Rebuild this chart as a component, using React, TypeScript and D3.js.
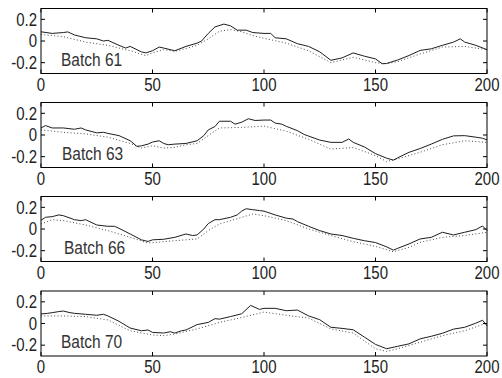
import React from 'react';
import * as d3 from 'd3';

// ==================== DATA ====================
const xTicks = [0, 50, 100, 150, 200];
const yTicks = [-0.2, 0, 0.2];
const batchNames = ['Batch 61', 'Batch 63', 'Batch 66', 'Batch 70'];

type Pt = [number, number];

const batch61Solid: Pt[] = [[0,0.085],[5,0.07],[10,0.078],[12,0.084],[15,0.056],[20,0.03],[25,0.02],[28,0],[30,0.006],[35,-0.04],[38,-0.065],[40,-0.05],[45,-0.1],[47,-0.11],[50,-0.09],[53,-0.056],[55,-0.065],[60,-0.09],[65,-0.05],[70,-0.02],[72,0],[75,0.07],[78,0.13],[82,0.156],[85,0.14],[88,0.1],[92,0.1],[95,0.078],[100,0.07],[103,0.07],[105,0.03],[110,0.02],[115,-0.025],[120,-0.05],[125,-0.1],[130,-0.178],[135,-0.156],[140,-0.11],[145,-0.14],[150,-0.165],[153,-0.21],[155,-0.207],[160,-0.175],[165,-0.134],[170,-0.087],[175,-0.072],[180,-0.04],[185,-0.01],[188,0.02],[190,-0.01],[195,-0.04],[200,-0.08]];
const batch61Dotted: Pt[] = [[0,0.06],[10,0.04],[20,-0.01],[30,-0.04],[40,-0.09],[47,-0.135],[50,-0.11],[55,-0.08],[60,-0.095],[65,-0.07],[70,-0.04],[75,0.02],[80,0.09],[85,0.105],[90,0.085],[95,0.05],[100,0.025],[110,-0.02],[120,-0.09],[130,-0.2],[140,-0.15],[150,-0.2],[155,-0.21],[160,-0.19],[170,-0.12],[180,-0.056],[190,-0.05],[200,-0.08]];

const batch63Solid: Pt[] = [[0,0.065],[2,0.087],[5,0.065],[10,0.065],[15,0.053],[18,0.065],[20,0.047],[25,0.02],[28,0.025],[30,0.015],[35,-0.006],[40,-0.053],[43,-0.105],[45,-0.1],[48,-0.084],[50,-0.065],[53,-0.053],[55,-0.078],[57,-0.09],[60,-0.084],[65,-0.078],[70,-0.053],[73,-0.006],[75,0.047],[78,0.078],[80,0.127],[85,0.127],[87,0.1],[90,0.118],[93,0.15],[96,0.134],[100,0.138],[103,0.138],[105,0.11],[108,0.1],[110,0.08],[115,0.04],[118,0.005],[120,-0.01],[125,-0.047],[130,-0.068],[135,-0.068],[138,-0.037],[140,-0.068],[145,-0.11],[150,-0.172],[155,-0.214],[158,-0.232],[160,-0.21],[165,-0.16],[170,-0.125],[175,-0.084],[180,-0.04],[185,-0.008],[190,-0.006],[195,-0.02],[198,-0.03],[200,-0.045]];
const batch63Dotted: Pt[] = [[0,0.047],[10,0.025],[20,0.01],[30,-0.02],[40,-0.078],[45,-0.12],[50,-0.1],[55,-0.12],[60,-0.115],[65,-0.09],[70,-0.078],[75,-0.006],[80,0.065],[90,0.07],[100,0.082],[110,0.035],[120,-0.04],[130,-0.13],[140,-0.115],[150,-0.19],[155,-0.245],[160,-0.22],[170,-0.16],[180,-0.09],[190,-0.053],[200,-0.068]];

const batch66Solid: Pt[] = [[0,0.08],[2,0.108],[5,0.114],[8,0.13],[10,0.123],[15,0.086],[18,0.077],[20,0.086],[25,0.037],[30,0.025],[33,0.025],[35,0.006],[40,-0.046],[45,-0.1],[48,-0.115],[50,-0.1],[55,-0.095],[60,-0.077],[65,-0.046],[68,-0.06],[70,-0.055],[73,0],[75,0.05],[78,0.086],[80,0.086],[85,0.108],[88,0.13],[90,0.165],[92,0.187],[95,0.178],[98,0.17],[100,0.165],[105,0.13],[110,0.1],[113,0.092],[115,0.068],[120,0.025],[125,-0.015],[130,-0.046],[135,-0.06],[140,-0.086],[145,-0.108],[150,-0.125],[155,-0.165],[158,-0.195],[160,-0.178],[165,-0.138],[170,-0.092],[175,-0.077],[180,-0.03],[185,-0.055],[190,-0.03],[195,-0.006],[198,0.028],[200,-0.015]];
const batch66Dotted: Pt[] = [[0,0.046],[5,0.086],[10,0.077],[20,0.037],[30,-0.015],[40,-0.077],[48,-0.13],[55,-0.117],[60,-0.108],[70,-0.092],[75,-0.015],[80,0.046],[90,0.108],[95,0.138],[100,0.123],[110,0.077],[120,0],[130,-0.06],[140,-0.117],[150,-0.16],[158,-0.21],[165,-0.17],[170,-0.123],[180,-0.077],[190,-0.06],[200,-0.03]];

const batch70Solid: Pt[] = [[0,0.088],[3,0.094],[5,0.1],[8,0.11],[10,0.115],[13,0.1],[15,0.094],[20,0.085],[25,0.076],[28,0.085],[30,0.07],[35,0.02],[40,-0.042],[45,-0.067],[48,-0.06],[50,-0.082],[55,-0.088],[58,-0.076],[60,-0.088],[63,-0.067],[65,-0.06],[70,-0.01],[75,0.01],[78,0.045],[80,0.04],[85,0.064],[90,0.09],[94,0.167],[98,0.13],[100,0.14],[105,0.14],[110,0.118],[115,0.124],[120,0.07],[125,0.035],[130,-0.035],[135,-0.045],[140,-0.058],[145,-0.125],[150,-0.193],[155,-0.233],[160,-0.21],[165,-0.188],[170,-0.142],[175,-0.118],[180,-0.09],[185,-0.052],[190,-0.035],[195,0.003],[198,0.03],[200,-0.02]];
const batch70Dotted: Pt[] = [[0,0.07],[10,0.07],[20,0.064],[30,0.033],[40,-0.067],[50,-0.106],[55,-0.112],[60,-0.097],[70,-0.05],[80,0.01],[90,0.055],[100,0.106],[110,0.076],[120,0.05],[130,-0.05],[140,-0.088],[150,-0.233],[155,-0.258],[160,-0.233],[170,-0.173],[180,-0.112],[190,-0.067],[200,0.005]];

const solidSeries = [batch61Solid, batch63Solid, batch66Solid, batch70Solid];
const dottedSeries = [batch61Dotted, batch63Dotted, batch66Dotted, batch70Dotted];

// ==================== LAYOUT ====================
const W = 502;
const H = 378;
const LEFT = 41;
const RIGHT = 487;
const PANEL_H = 65;
const PANEL_TOPS = [8.5, 102.5, 196.5, 291];
const LABEL_X = [61, 62, 64, 61];
const FONT = "'Liberation Sans', Arial, sans-serif";
const TEXT_SY = 1.18; // picture is stretched vertically
const TICK = 4;

const x = d3.scaleLinear().domain([0, 200]).range([LEFT, RIGHT]);

const Panel = ({ i }: { i: number }) => {
  const top = PANEL_TOPS[i];
  const y = d3.scaleLinear().domain([-0.3, 0.3]).range([top + PANEL_H, top]);
  const line = d3.line<Pt>().x(d => x(d[0])).y(d => y(d[1]));
  const bottom = top + PANEL_H;
  return (
    <g>
      <path d={line(dottedSeries[i]) || ''} fill="none" stroke="#4a4a4a" strokeWidth={1} strokeDasharray="1 2.3" />
      <path d={line(solidSeries[i]) || ''} fill="none" stroke="#1e1e1e" strokeWidth={1} strokeLinejoin="round" />
      <rect x={LEFT} y={top} width={RIGHT - LEFT} height={PANEL_H} fill="none" stroke="#000" strokeWidth={1} />
      {xTicks.map(t => (
        <g key={'x' + t}>
          <line x1={x(t)} x2={x(t)} y1={bottom} y2={bottom - TICK} stroke="#000" />
          <line x1={x(t)} x2={x(t)} y1={top} y2={top + TICK} stroke="#000" />
          <text transform={`translate(${x(t)},${bottom + 17}) scale(1,${TEXT_SY})`} textAnchor="middle"
            fontFamily={FONT} fontSize={15} fill="#222">{t}</text>
        </g>
      ))}
      {yTicks.map(t => (
        <g key={'y' + t}>
          <line x1={LEFT} x2={LEFT + TICK} y1={y(t)} y2={y(t)} stroke="#000" />
          <line x1={RIGHT} x2={RIGHT - TICK} y1={y(t)} y2={y(t)} stroke="#000" />
          <text transform={`translate(${LEFT - 4},${y(t) + 6.2}) scale(1,${TEXT_SY})`} textAnchor="end"
            fontFamily={FONT} fontSize={15} fill="#222">{t === 0 ? '0' : t.toFixed(1)}</text>
        </g>
      ))}
      <text transform={`translate(${LABEL_X[i]},${top + 57}) scale(1,${TEXT_SY})`}
        fontFamily={FONT} fontSize={15.5} fill="#333">{batchNames[i]}</text>
    </g>
  );
};

export default function App() {
  return (
    <svg width={W} height={H} viewBox={`0 0 ${W} ${H}`}
      style={{ position: 'absolute', left: 0, top: 0, background: '#fff' }}>
      <rect width={W} height={H} fill="#fff" />
      {batchNames.map((_, i) => <Panel key={i} i={i} />)}
    </svg>
  );
}
